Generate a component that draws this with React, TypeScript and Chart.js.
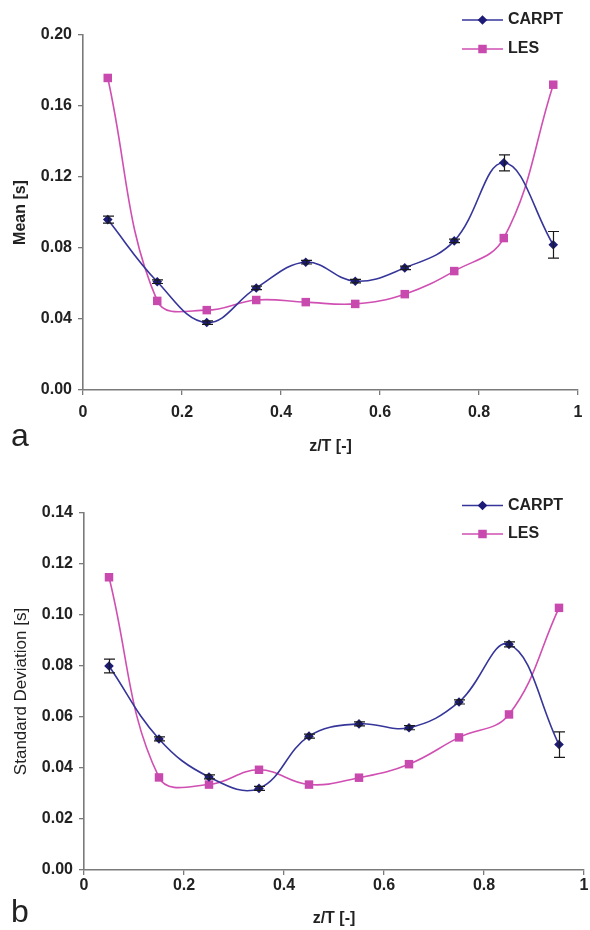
import React, { useEffect, useRef } from "react";
import { Chart, registerables } from "chart.js";

Chart.register(...registerables);

// ---------- data ----------
const zT = [0.05, 0.15, 0.25, 0.35, 0.45, 0.55, 0.65, 0.75, 0.85, 0.95];

const meanCARPT = [0.096, 0.061, 0.038, 0.0575, 0.072, 0.0613, 0.0688, 0.084, 0.128, 0.0818];
const meanCARPTErr = [0.002, 0.001, 0.001, 0.001, 0.001, 0.001, 0.001, 0.001, 0.0045, 0.0075];
const meanLES = [0.1758, 0.0502, 0.045, 0.0507, 0.0495, 0.0485, 0.054, 0.067, 0.0856, 0.172];

const sdCARPT = [0.08, 0.0514, 0.0365, 0.032, 0.0525, 0.0573, 0.0558, 0.0659, 0.0885, 0.0492];
const sdCARPTErr = [0.0027, 0.0008, 0.0008, 0.0008, 0.0008, 0.0008, 0.0008, 0.0008, 0.001, 0.005];
const sdLES = [0.1148, 0.0363, 0.0335, 0.0393, 0.0335, 0.0362, 0.0415, 0.052, 0.061, 0.1028];

const seriesNames = ["CARPT", "LES"];
const xTicks = [0, 0.2, 0.4, 0.6, 0.8, 1];
const meanTicks = [0, 0.04, 0.08, 0.12, 0.16, 0.2];
const sdTicks = [0, 0.02, 0.04, 0.06, 0.08, 0.1, 0.12, 0.14];
const xTitle = "z/T [-]";
const meanTitle = "Mean [s]";
const sdTitle = "Standard Deviation [s]";
const panelLetters = ["a", "b"];

// ---------- styles ----------
const FONT = "'Liberation Sans', Arial, Helvetica, sans-serif";
const CARPT_LINE = "#35359a";
const CARPT_MARK = "#1c1c78";
const LES_LINE = "#d04fb2";
const LES_MARK = "#c94aae";
const AXIS = "#7a7a7a";
const TEXT = "#222222";
const W = 590;
const H = 465;

function drawMarker(ctx: CanvasRenderingContext2D, style: string, x: number, y: number, r: number, color: string) {
  ctx.save();
  ctx.fillStyle = color;
  ctx.beginPath();
  if (style === "rectRot") {
    ctx.moveTo(x, y - r);
    ctx.lineTo(x + r, y);
    ctx.lineTo(x, y + r);
    ctx.lineTo(x - r, y);
    ctx.closePath();
  } else {
    const s = r * Math.SQRT1_2;
    ctx.rect(x - s, y - s, 2 * s, 2 * s);
  }
  ctx.fill();
  ctx.restore();
}

const legendPlugin = {
  id: "manualLegend",
  afterDraw(chart: any, _args: any, o: any) {
    const ctx: CanvasRenderingContext2D = chart.ctx;
    chart.data.datasets.forEach((ds: any, i: number) => {
      const y = o.ys[i];
      ctx.save();
      ctx.strokeStyle = ds.borderColor;
      ctx.lineWidth = ds.borderWidth;
      ctx.beginPath();
      ctx.moveTo(o.x0, y);
      ctx.lineTo(o.x1, y);
      ctx.stroke();
      drawMarker(ctx, ds.pointStyle, (o.x0 + o.x1) / 2, y, ds.pointRadius, ds.pointBackgroundColor);
      ctx.fillStyle = TEXT;
      ctx.font = `bold 16px ${FONT}`;
      ctx.textBaseline = "middle";
      ctx.textAlign = "left";
      ctx.fillText(ds.label, o.tx, y);
      ctx.restore();
    });
  },
};

const errorBarPlugin = {
  id: "errorBars",
  afterDatasetsDraw(chart: any, _args: any, o: any) {
    const ctx: CanvasRenderingContext2D = chart.ctx;
    const xs = chart.scales.x;
    const ys = chart.scales.y;
    const data = chart.data.datasets[o.datasetIndex].data;
    ctx.save();
    ctx.strokeStyle = "#1a1a1a";
    ctx.lineWidth = 1.2;
    data.forEach((p: any, i: number) => {
      const e = o.errors[i];
      if (!e) return;
      const px = Math.round(xs.getPixelForValue(p.x)) + 0.5;
      const y1 = ys.getPixelForValue(p.y + e);
      const y2 = ys.getPixelForValue(p.y - e);
      ctx.beginPath();
      ctx.moveTo(px, y1);
      ctx.lineTo(px, y2);
      ctx.moveTo(px - 5.5, y1);
      ctx.lineTo(px + 5.5, y1);
      ctx.moveTo(px - 5.5, y2);
      ctx.lineTo(px + 5.5, y2);
      ctx.stroke();
    });
    ctx.restore();
  },
};

type PanelSpec = {
  carpt: number[];
  carptErr: number[];
  les: number[];
  yTicks: number[];
  yTitle: string;
  yTitleFont: any;
  area: { left: number; right: number; top: number; bottom: number };
  xTickPad: number;
  xTitlePad: number;
  legendYs: number[];
  legendX0: number;
};

function buildConfig(p: PanelSpec): any {
  const yMin = p.yTicks[0];
  const yMax = p.yTicks[p.yTicks.length - 1];
  return {
    type: "line",
    data: {
      datasets: [
        {
          label: seriesNames[0],
          data: zT.map((x, i) => ({ x, y: p.carpt[i] })),
          borderColor: CARPT_LINE,
          borderWidth: 1.6,
          pointStyle: "rectRot",
          pointRadius: 4.8,
          pointBackgroundColor: CARPT_MARK,
          pointBorderColor: CARPT_MARK,
          pointBorderWidth: 0,
          tension: 0.4,
          fill: false,
        },
        {
          label: seriesNames[1],
          data: zT.map((x, i) => ({ x, y: p.les[i] })),
          borderColor: LES_LINE,
          borderWidth: 1.6,
          pointStyle: "rect",
          pointRadius: 6,
          pointBackgroundColor: LES_MARK,
          pointBorderColor: LES_MARK,
          pointBorderWidth: 0,
          tension: 0.4,
          fill: false,
        },
      ],
    },
    options: {
      responsive: false,
      animation: false,
      events: [],
      layout: {
        padding: { left: 0, top: p.area.top, right: W - p.area.right, bottom: 0 },
      },
      plugins: {
        legend: { display: false },
        tooltip: { enabled: false },
        manualLegend: { ys: p.legendYs, x0: p.legendX0, x1: p.legendX0 + 41, tx: p.legendX0 + 46 },
        errorBars: { datasetIndex: 0, errors: p.carptErr },
      },
      scales: {
        x: {
          type: "linear",
          min: xTicks[0],
          max: xTicks[xTicks.length - 1],
          afterBuildTicks: (s: any) => {
            s.ticks = xTicks.map((v) => ({ value: v }));
          },
          afterFit: (s: any) => {
            s.height = H - p.area.bottom;
            s.paddingLeft = 0;
            s.paddingRight = 0;
          },
          grid: { display: true, drawOnChartArea: false, drawTicks: true, tickLength: 5, color: AXIS, lineWidth: 1.3 },
          border: { display: true, color: AXIS, width: 1.6 },
          ticks: {
            padding: p.xTickPad,
            color: TEXT,
            font: { family: FONT, size: 16, weight: "bold" },
            maxRotation: 0,
            callback: (v: any) => String(Math.round(Number(v) * 10) / 10),
          },
          title: {
            display: true,
            text: xTitle,
            color: TEXT,
            font: { family: FONT, size: 16, weight: "bold" },
            padding: { top: 0, bottom: p.xTitlePad },
          },
        },
        y: {
          type: "linear",
          min: yMin,
          max: yMax,
          afterBuildTicks: (s: any) => {
            s.ticks = p.yTicks.map((v) => ({ value: v }));
          },
          afterFit: (s: any) => {
            s.width = p.area.left;
            s.paddingTop = 0;
            s.paddingBottom = 0;
          },
          grid: { display: true, drawOnChartArea: false, drawTicks: true, tickLength: 5, color: AXIS, lineWidth: 1.3 },
          border: { display: true, color: AXIS, width: 1.6 },
          ticks: {
            padding: 6,
            color: TEXT,
            font: { family: FONT, size: 16, weight: "bold" },
            callback: (v: any) => Number(v).toFixed(2),
          },
          title: {
            display: true,
            text: p.yTitle,
            color: TEXT,
            font: p.yTitleFont,
            padding: { top: 11, bottom: 0 },
          },
        },
      },
    },
    plugins: [legendPlugin, errorBarPlugin],
  };
}

function Panel({ top, spec, letter, letterTop }: { top: number; spec: PanelSpec; letter: string; letterTop: number }) {
  const ref = useRef<HTMLCanvasElement | null>(null);
  useEffect(() => {
    if (!ref.current) return;
    const chart = new Chart(ref.current, buildConfig(spec));
    return () => chart.destroy();
  }, []);
  return (
    <div style={{ position: "absolute", left: 0, top, width: W, height: H }}>
      <canvas ref={ref} width={W} height={H} style={{ display: "block", width: W, height: H }} />
      <div
        style={{
          position: "absolute",
          left: 11,
          top: letterTop,
          fontFamily: FONT,
          fontSize: 32,
          lineHeight: 1,
          color: TEXT,
        }}
      >
        {letter}
      </div>
    </div>
  );
}

const topSpec: PanelSpec = {
  carpt: meanCARPT,
  carptErr: meanCARPTErr,
  les: meanLES,
  yTicks: meanTicks,
  yTitle: meanTitle,
  yTitleFont: { family: FONT, size: 16, weight: "bold" },
  area: { left: 83, right: 578, top: 35, bottom: 390 },
  xTickPad: 8,
  xTitlePad: 9,
  legendYs: [20, 49],
  legendX0: 462,
};

const bottomSpec: PanelSpec = {
  carpt: sdCARPT,
  carptErr: sdCARPTErr,
  les: sdLES,
  yTicks: sdTicks,
  yTitle: sdTitle,
  yTitleFont: { family: FONT, size: 17, weight: "normal" },
  area: { left: 84, right: 584, top: 48, bottom: 405 },
  xTickPad: 1,
  xTitlePad: 2,
  legendYs: [40.5, 69],
  legendX0: 462,
};

export default function App() {
  return (
    <div style={{ position: "absolute", left: 0, top: 0, width: W, height: 930, background: "#ffffff", overflow: "hidden" }}>
      <Panel top={0} spec={topSpec} letter={panelLetters[0]} letterTop={419} />
      <Panel top={H} spec={bottomSpec} letter={panelLetters[1]} letterTop={430} />
    </div>
  );
}
